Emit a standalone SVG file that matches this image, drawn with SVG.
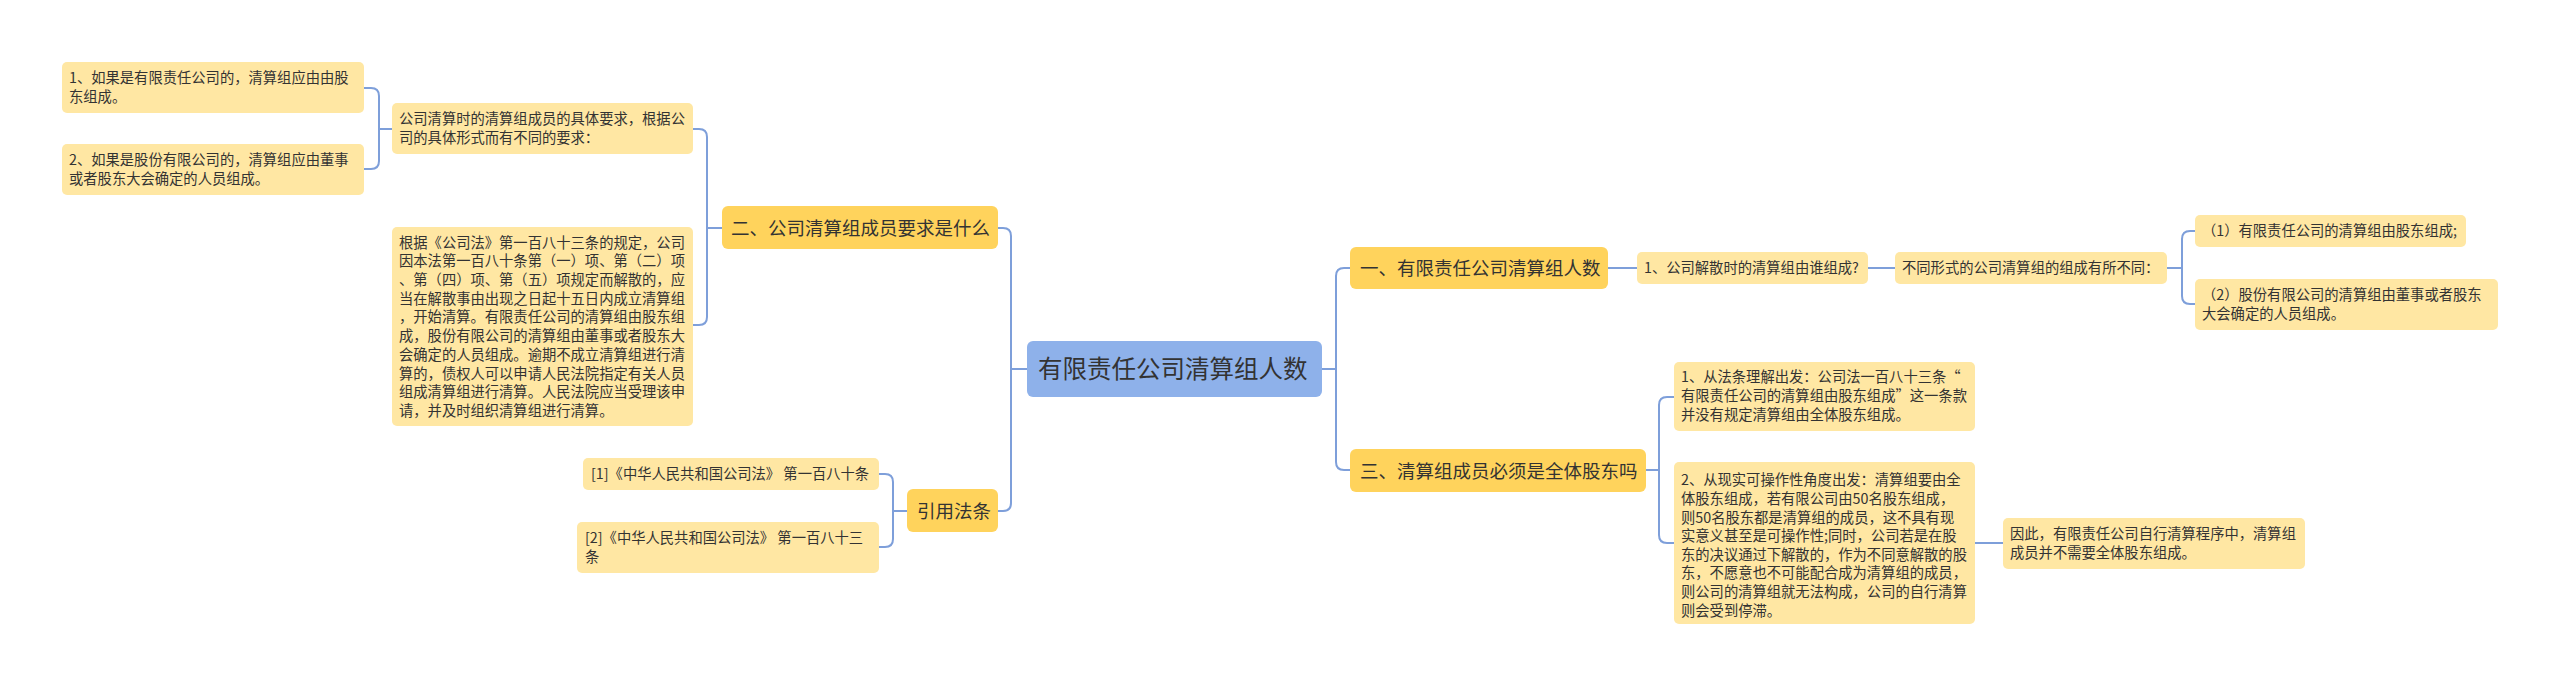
<svg xmlns="http://www.w3.org/2000/svg" width="2560" height="687" viewBox="0 0 2560 687">
<style>
text{font-family:"Noto Sans CJK SC","Noto Sans",sans-serif;fill:#333333;}
.s rect{fill:#FFE7A3;}
.b rect{fill:#FFD35C;}
.c rect{fill:#8EB1EA;}
.s text{font-size:14.3px;}
.b text{font-size:18.5px;}
.c text{font-size:24.5px;}
#connectors path{fill:none;stroke:#7E9FDA;stroke-width:2;}
</style>
<rect width="2560" height="687" fill="#FFFFFF"/>
<g id="connectors">
<path d="M1027,369 H1011 M998,228 H1003 Q1011,228 1011,236 V503 Q1011,511 1003,511 H998"/>
<path d="M722,228 H707 M693,129 H699 Q707,129 707,137 V317 Q707,325 699,325 H693"/>
<path d="M392,129 H379 M364,88 H371 Q379,88 379,96 V161 Q379,169 371,169 H364"/>
<path d="M907,511 H893 M879,474 H885 Q893,474 893,482 V539 Q893,547 885,547 H879"/>
<path d="M1322,369 H1336 M1350,268 H1344 Q1336,268 1336,276 V462 Q1336,470 1344,470 H1350"/>
<path d="M1608,268 H1637"/>
<path d="M1868,268 H1895"/>
<path d="M2167,268 H2182 M2195,231 H2190 Q2182,231 2182,239 V296 Q2182,304 2190,304 H2195"/>
<path d="M1646,470 H1659 M1674,397 H1667 Q1659,397 1659,405 V535 Q1659,543 1667,543 H1674"/>
<path d="M1975,543 H2003"/>
</g>
<g id="center" class="c">
<rect x="1027" y="341" width="295" height="56" rx="6"/>
<text x="1038" y="378.3">有限责任公司清算组人数</text>
</g>
<g id="branch-2" class="b">
<rect x="722" y="206" width="276" height="43" rx="6"/>
<text x="731" y="234.5">二、公司清算组成员要求是什么</text>
</g>
<g id="node-b" class="s">
<rect x="392" y="103" width="301" height="51" rx="5"/>
<text x="399" y="124.3">公司清算时的清算组成员的具体要求，根据公</text>
<text x="399" y="143.3">司的具体形式而有不同的要求：</text>
</g>
<g id="node-a1" class="s">
<rect x="62" y="62" width="302" height="51" rx="5"/>
<text x="69" y="83.3">1、如果是有限责任公司的，清算组应由由股</text>
<text x="69" y="102.3">东组成。</text>
</g>
<g id="node-a2" class="s">
<rect x="62" y="144" width="302" height="51" rx="5"/>
<text x="69" y="165.3">2、如果是股份有限公司的，清算组应由董事</text>
<text x="69" y="184.3">或者股东大会确定的人员组成。</text>
</g>
<g id="node-c" class="s">
<rect x="392" y="227" width="301" height="199" rx="5"/>
<text x="399" y="247.6">根据《公司法》第一百八十三条的规定，公司</text>
<text x="399" y="266.3">因本法第一百八十条第（一）项、第（二）项</text>
<text x="399" y="285">、第（四）项、第（五）项规定而解散的，应</text>
<text x="399" y="303.7">当在解散事由出现之日起十五日内成立清算组</text>
<text x="399" y="322.4">，开始清算。有限责任公司的清算组由股东组</text>
<text x="399" y="341.1">成，股份有限公司的清算组由董事或者股东大</text>
<text x="399" y="359.8">会确定的人员组成。逾期不成立清算组进行清</text>
<text x="399" y="378.5">算的，债权人可以申请人民法院指定有关人员</text>
<text x="399" y="397.2">组成清算组进行清算。人民法院应当受理该申</text>
<text x="399" y="415.9">请，并及时组织清算组进行清算。</text>
</g>
<g id="branch-ref" class="b">
<rect x="907" y="489" width="91" height="43" rx="6"/>
<text x="917" y="517.5">引用法条</text>
</g>
<g id="node-e1" class="s">
<rect x="583" y="458" width="296" height="32" rx="5"/>
<text x="591" y="479.3">[1]《中华人民共和国公司法》 第一百八十条</text>
</g>
<g id="node-e2" class="s">
<rect x="577" y="522" width="302" height="51" rx="5"/>
<text x="585" y="543.3">[2]《中华人民共和国公司法》 第一百八十三</text>
<text x="585" y="562.3">条</text>
</g>
<g id="branch-1" class="b">
<rect x="1350" y="247" width="258" height="42" rx="6"/>
<text x="1360" y="275">一、有限责任公司清算组人数</text>
</g>
<g id="node-h" class="s">
<rect x="1637" y="252" width="231" height="32" rx="5"/>
<text x="1644" y="273.3">1、公司解散时的清算组由谁组成?</text>
</g>
<g id="node-i" class="s">
<rect x="1895" y="252" width="272" height="32" rx="5"/>
<text x="1902" y="273.3">不同形式的公司清算组的组成有所不同：</text>
</g>
<g id="node-j1" class="s">
<rect x="2195" y="215" width="271" height="32" rx="5"/>
<text x="2202" y="236.3">（1）有限责任公司的清算组由股东组成;</text>
</g>
<g id="node-j2" class="s">
<rect x="2195" y="279" width="303" height="51" rx="5"/>
<text x="2202" y="300.3">（2）股份有限公司的清算组由董事或者股东</text>
<text x="2202" y="319.3">大会确定的人员组成。</text>
</g>
<g id="branch-3" class="b">
<rect x="1350" y="449" width="296" height="43" rx="6"/>
<text x="1360" y="477.5">三、清算组成员必须是全体股东吗</text>
</g>
<g id="node-l1" class="s">
<rect x="1674" y="362" width="301" height="69" rx="5"/>
<text x="1681" y="382.3">1、从法条理解出发：公司法一百八十三条“</text>
<text x="1681" y="401.3">有限责任公司的清算组由股东组成”这一条款</text>
<text x="1681" y="420.3">并没有规定清算组由全体股东组成。</text>
</g>
<g id="node-l2" class="s">
<rect x="1674" y="462" width="301" height="162" rx="5"/>
<text x="1681" y="485.3">2、从现实可操作性角度出发：清算组要由全</text>
<text x="1681" y="503.9">体股东组成，若有限公司由50名股东组成，</text>
<text x="1681" y="522.5">则50名股东都是清算组的成员，这不具有现</text>
<text x="1681" y="541.1">实意义甚至是可操作性;同时，公司若是在股</text>
<text x="1681" y="559.7">东的决议通过下解散的，作为不同意解散的股</text>
<text x="1681" y="578.3">东，不愿意也不可能配合成为清算组的成员，</text>
<text x="1681" y="596.9">则公司的清算组就无法构成，公司的自行清算</text>
<text x="1681" y="615.5">则会受到停滞。</text>
</g>
<g id="node-m" class="s">
<rect x="2003" y="518" width="302" height="51" rx="5"/>
<text x="2010" y="539.3">因此，有限责任公司自行清算程序中，清算组</text>
<text x="2010" y="558.3">成员并不需要全体股东组成。</text>
</g>
</svg>
